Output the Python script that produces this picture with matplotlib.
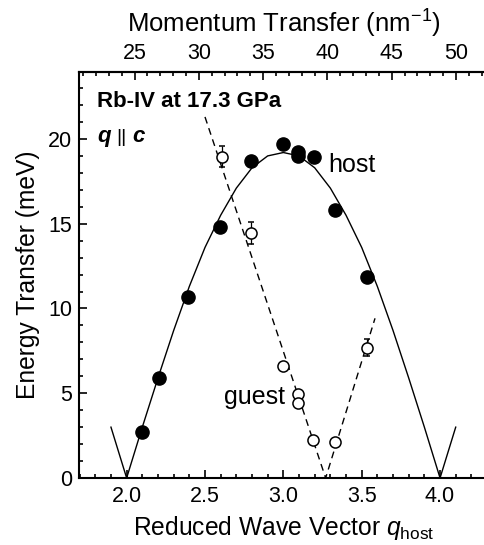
import matplotlib
matplotlib.use("Agg")
import matplotlib.pyplot as plt
from matplotlib.ticker import MultipleLocator, FixedLocator
from matplotlib.offsetbox import TextArea, HPacker, AnchoredOffsetbox

plt.rcParams['font.family'] = ['Liberation Sans', 'DejaVu Sans']
plt.rcParams['mathtext.fontset'] = 'custom'
plt.rcParams['mathtext.rm'] = 'Liberation Sans'
plt.rcParams['mathtext.it'] = 'Liberation Sans:italic'
plt.rcParams['mathtext.bf'] = 'Liberation Sans:bold'

# ---- data ----
host_q = [2.096, 2.205, 2.394, 2.595, 2.793, 2.995, 3.095, 3.095, 3.197, 3.329, 3.535]
host_E = [2.70, 5.90, 10.70, 14.83, 18.72, 19.69, 19.25, 19.00, 18.96, 15.81, 11.88]

guest_q = [2.606, 2.791, 2.995, 3.095, 3.091, 3.191, 3.329, 3.532]
guest_E = [18.96, 14.47, 6.63, 4.96, 4.41, 2.24, 2.10, 7.69]
guest_err = [0.60, 0.65, 0.0, 0.0, 0.0, 0.0, 0.0, 0.50]

# host dispersion curve (solid), read at 0.1 steps
curve_q = [1.9, 2.0, 2.1, 2.2, 2.3, 2.4, 2.5, 2.6, 2.7, 2.8, 2.9, 3.0,
           3.1, 3.2, 3.3, 3.4, 3.5, 3.6, 3.7, 3.8, 3.9, 4.0, 4.1]
curve_E = [3.0, 0.0, 3.0, 5.9, 8.7, 11.3, 13.6, 15.5, 17.1, 18.3, 19.0, 19.2,
           19.0, 18.3, 17.1, 15.5, 13.6, 11.3, 8.7, 5.9, 3.0, 0.0, 3.0]

# guest dispersion (dashed)
guestline_q = [2.50, 3.27, 3.585]
guestline_E = [21.3, 0.0, 9.42]

Q_PER_Q = 12.19  # nm^-1 per reduced unit
top_ticks = [25, 30, 35, 40, 45, 50]
bottom_ticks = [2.0, 2.5, 3.0, 3.5, 4.0]
y_ticks = [0, 5, 10, 15, 20]

W, H = 484, 545
fig = plt.figure(figsize=(W / 100, H / 100), dpi=100)
ax = fig.add_axes([79 / W, 1 - 478 / H, 409 / W, 406 / H])

ax.plot(curve_q, curve_E, color='black', lw=1.0, zorder=2)
ax.plot(guestline_q, guestline_E, color='black', lw=1.0, dashes=(5, 3.5), zorder=2)

ax.errorbar(guest_q, guest_E, yerr=guest_err, fmt='o', ms=8, mfc='white', mec='black',
            mew=1.1, ecolor='black', elinewidth=0.9, capsize=2.5, capthick=0.9, zorder=3)
ax.plot(host_q, host_E, 'o', ms=9.5, color='black', zorder=4)

ax.set_xlim(1.696, 4.306)
ax.set_ylim(0, 23.95)

ax.xaxis.set_major_locator(FixedLocator(bottom_ticks))
ax.xaxis.set_minor_locator(MultipleLocator(0.1))
ax.yaxis.set_major_locator(FixedLocator(y_ticks))
ax.yaxis.set_minor_locator(MultipleLocator(1))
ax.set_xticklabels([f"{v:.1f}" for v in bottom_ticks])
ax.set_yticklabels([str(v) for v in y_ticks])

for s in ax.spines.values():
    s.set_linewidth(1.5)

ax.tick_params(which='both', direction='in', width=1.2, labelsize=15.5, pad=6)
ax.tick_params(which='major', length=5.5)
ax.tick_params(which='minor', length=3)
ax.tick_params(axis='x', top=False)
ax.tick_params(axis='y', pad=5)

ax.set_xlabel(r'Reduced Wave Vector $q_{\rm host}$', fontsize=17.7, labelpad=5)
ax.set_ylabel('Energy Transfer (meV)', fontsize=17.7, labelpad=6)

sec = ax.secondary_xaxis('top', functions=(lambda q: q * Q_PER_Q, lambda Q: Q / Q_PER_Q))
sec.xaxis.set_major_locator(FixedLocator(top_ticks))
sec.xaxis.set_minor_locator(MultipleLocator(1))
sec.set_xticklabels([str(v) for v in top_ticks])
sec.tick_params(which='both', direction='in', width=1.2, labelsize=15.5, pad=6)
sec.tick_params(which='major', length=5.5)
sec.tick_params(which='minor', length=3)
sec.spines['top'].set_linewidth(1.5)
sec.set_xlabel(r'Momentum Transfer (nm$^{-1}$)', fontsize=18.5, labelpad=7)

ax.text(0.044, 0.927, 'Rb-IV at 17.3 GPa', transform=ax.transAxes, fontsize=16,
        fontweight='bold', ha='left', va='center')

parts = HPacker(children=[
    TextArea('q', textprops=dict(fontsize=16, fontweight='bold', fontstyle='italic')),
    TextArea('||', textprops=dict(fontsize=14)),
    TextArea('c', textprops=dict(fontsize=16, fontweight='bold', fontstyle='italic')),
], align='baseline', pad=0, sep=4)
ab = AnchoredOffsetbox(loc='center left', child=parts, frameon=False, pad=0, borderpad=0,
                       bbox_to_anchor=(0.044, 0.841), bbox_transform=ax.transAxes)
ax.add_artist(ab)

ax.text(3.287, 18.47, 'host', fontsize=18, ha='left', va='center')
ax.text(3.011, 4.76, 'guest', fontsize=18, ha='right', va='center')

fig.savefig('out.png', dpi=100)
